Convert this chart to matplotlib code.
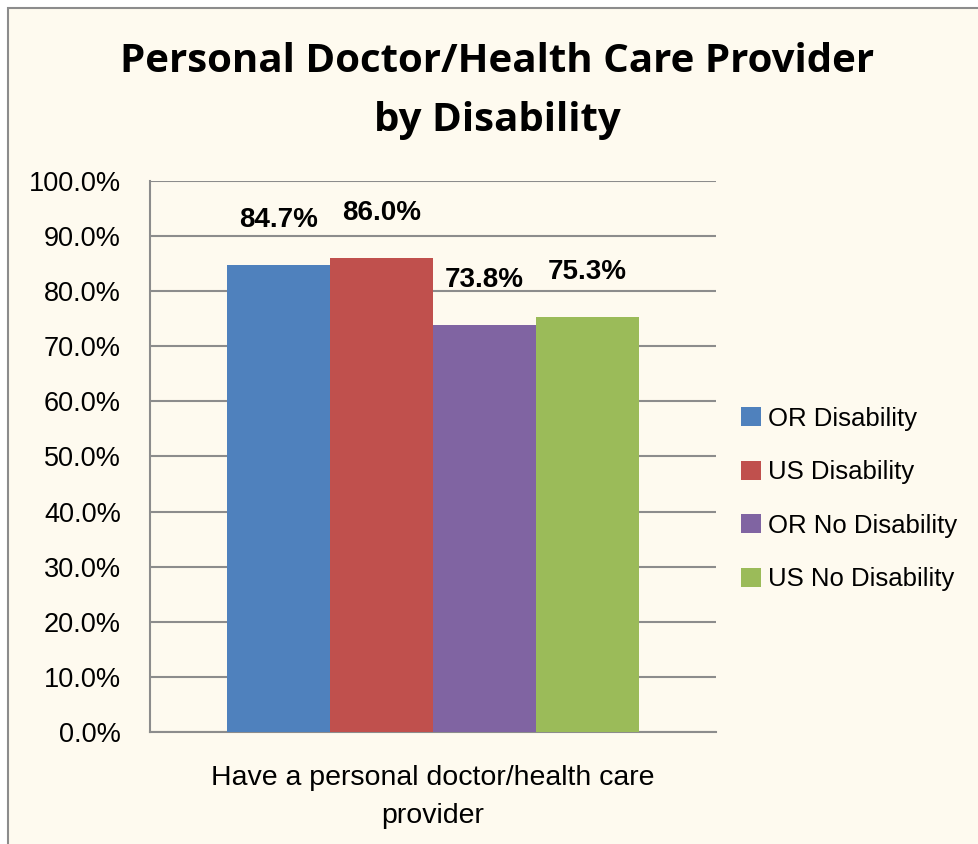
import matplotlib.pyplot as plt
from matplotlib.patches import Rectangle

# Data
categories = ['Have a personal doctor/health care\nprovider']
series_names = ['OR Disability', 'US Disability', 'OR No Disability', 'US No Disability']
series_values = [84.7, 86.0, 73.8, 75.3]
series_colors = ['#4F81BD', '#C0504D', '#8064A2', '#9BBB59']
yticks = [0, 10, 20, 30, 40, 50, 60, 70, 80, 90, 100]

plt.rcParams['font.family'] = ['Open Sans', 'DejaVu Sans']
body = 'Liberation Sans'

bg = '#FEFAEF'
fig = plt.figure(figsize=(9.79, 8.44), dpi=100, facecolor='white')

# chart area frame (cut off at the right and bottom in the reference)
fig.patches.append(Rectangle((8 / 979, -0.05), 1.2, 1 - 8 / 844 + 0.05,
                             transform=fig.transFigure, facecolor=bg,
                             edgecolor='#8C8C8C', linewidth=1.5, zorder=-10))

ax = fig.add_axes([150 / 979, 1 - 732 / 844, 566 / 979, 551 / 844])
ax.patch.set_alpha(0)

width = 0.182
offsets = [(i - 1.5) * width for i in range(len(series_values))]
for name, val, col, off in zip(series_names, series_values, series_colors, offsets):
    ax.bar(0 + off, val, width=width, color=col, label=name, zorder=3)
    ax.text(0 + off, val + 5.8, f'{val:.1f}%', ha='center', va='bottom',
            fontsize=20, fontweight='bold', family=body)

ax.set_xlim(-0.5, 0.5)
ax.set_ylim(0, 100)
ax.set_yticks(yticks)
ax.set_yticklabels([f'{t:.1f}%' for t in yticks], family=body, fontsize=19.5)
ax.set_xticks([0])
ax.set_xticklabels(categories, family=body, fontsize=20.5, linespacing=1.6)
ax.tick_params(axis='y', length=0, pad=21)
ax.tick_params(axis='x', length=0, pad=24)
ax.yaxis.grid(True, color='#8C8C8C', linewidth=1.5, zorder=0)
for s in ['top', 'right']:
    ax.spines[s].set_visible(False)
for s in ['left', 'bottom']:
    ax.spines[s].set_color('#8C8C8C')
    ax.spines[s].set_linewidth(1.5)

fig.text(0.508, 1 - 91 / 844, 'Personal Doctor/Health Care Provider\nby Disability',
         ha='center', va='center', fontsize=29, fontweight='bold',
         linespacing=1.65)

leg = fig.legend(loc='center left', bbox_to_anchor=(731 / 979, 1 - 499 / 844),
                 frameon=False, fontsize=18.5, handlelength=0.75, handleheight=0.75,
                 handletextpad=0.3, labelspacing=1.15, borderaxespad=0)
for t in leg.get_texts():
    t.set_family(body)

fig.savefig('out.png', dpi=100, facecolor='white')
